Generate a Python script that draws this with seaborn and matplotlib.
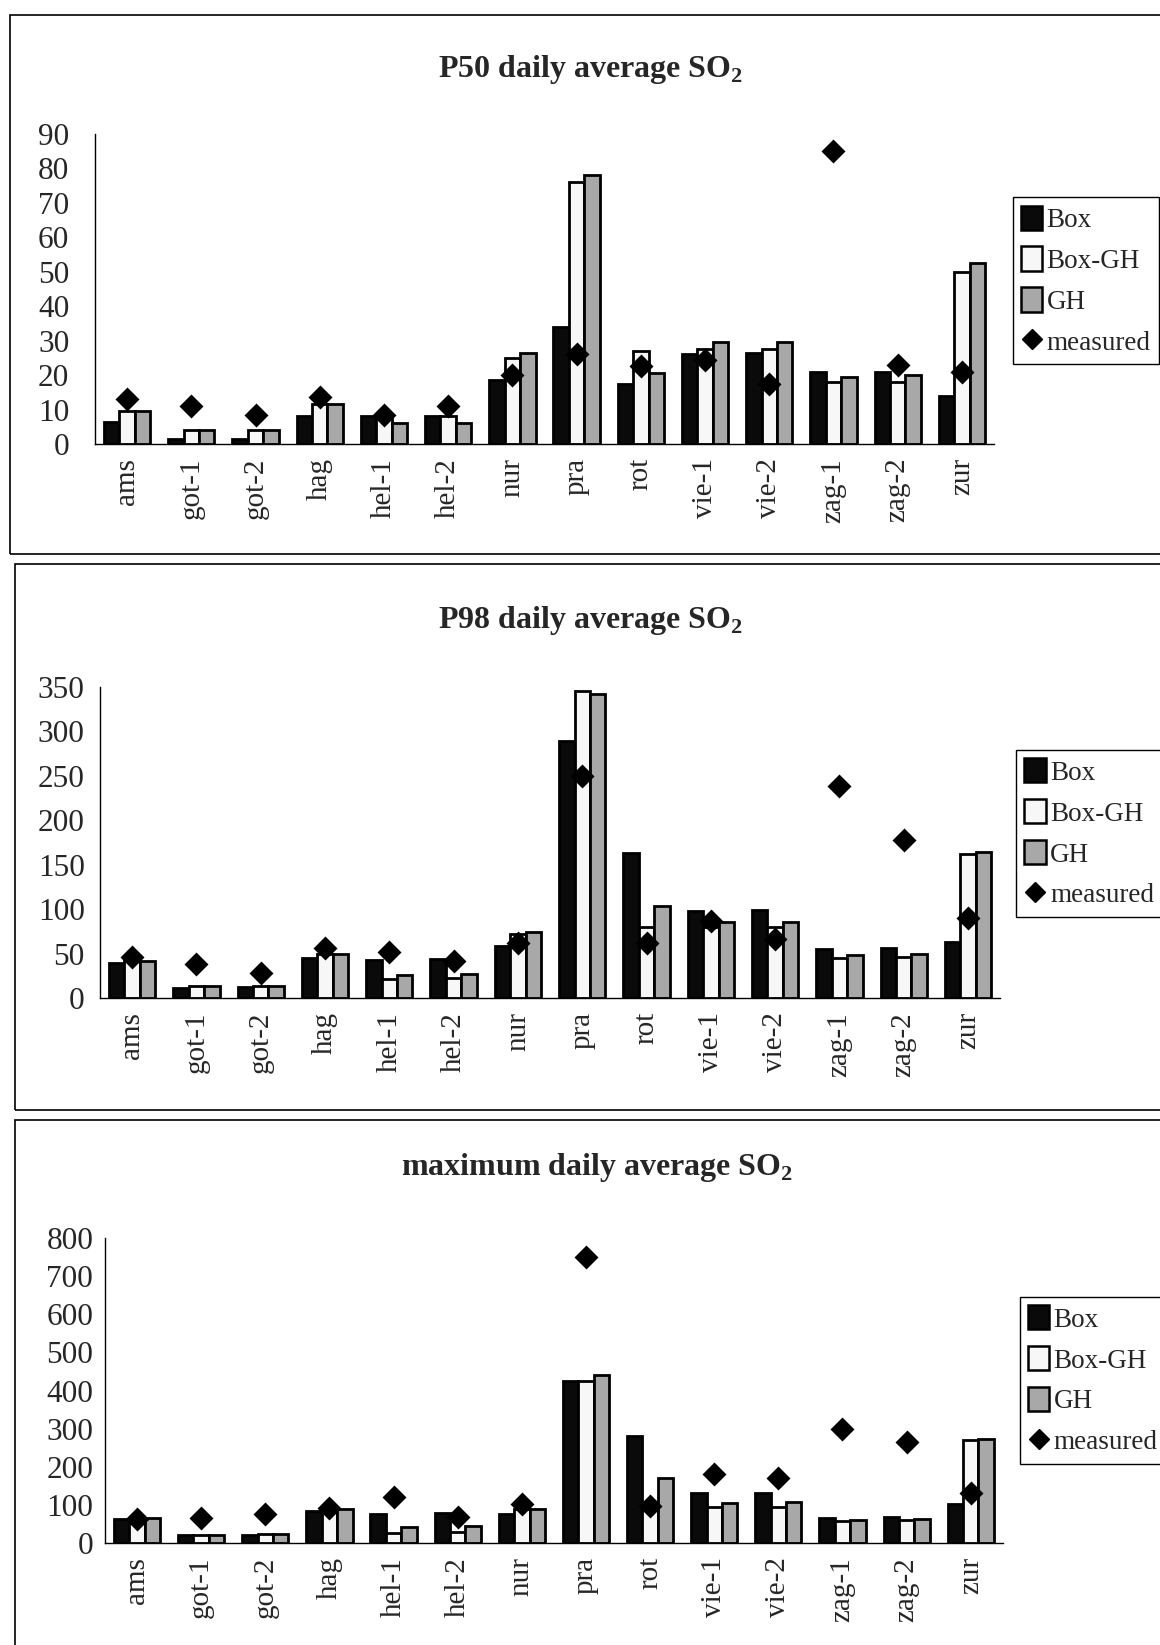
import numpy as np
import pandas as pd
import matplotlib
matplotlib.use("Agg")
import matplotlib.pyplot as plt
from matplotlib.patches import Rectangle, Patch
from matplotlib.lines import Line2D
import seaborn as sns

sites = ["ams", "got-1", "got-2", "hag", "hel-1", "hel-2", "nur", "pra",
         "rot", "vie-1", "vie-2", "zag-1", "zag-2", "zur"]
models = ["Box", "Box-GH", "GH"]

# P50 daily average SO2
p50_box    = [6.5, 1.5, 1.5, 8, 8, 8, 18.5, 34, 17.5, 26, 26.5, 21, 21, 14]
p50_boxgh  = [9.5, 4, 4, 11.5, 8, 8, 25, 76, 27, 27.5, 27.5, 18, 18, 50]
p50_gh     = [9.5, 4, 4, 11.5, 6, 6, 26.5, 78, 20.5, 29.5, 29.5, 19.5, 20, 52.5]
p50_meas   = [13, 11, 8.5, 13.5, 8.5, 11, 20, 26, 22.5, 24.5, 17.5, 85, 23, 21]

# P98 daily average SO2
p98_box    = [39, 11, 12, 45, 43, 44, 59, 289, 163, 98, 99, 55, 56, 63]
p98_boxgh  = [43, 14, 14, 50, 21, 22, 72, 345, 80, 80, 80, 45, 46, 162]
p98_gh     = [42, 14, 14, 50, 26, 27, 74, 342, 103, 85, 86, 48, 49, 164]
p98_meas   = [46, 38, 28, 56, 52, 42, 62, 250, 62, 87, 66, 238, 178, 90]

# maximum daily average SO2
max_box    = [62, 20, 22, 85, 75, 78, 77, 425, 282, 130, 132, 65, 67, 103]
max_boxgh  = [65, 22, 24, 90, 25, 30, 90, 425, 100, 95, 95, 58, 60, 270]
max_gh     = [65, 22, 24, 90, 43, 45, 90, 440, 170, 105, 107, 60, 62, 273]
max_meas   = [63, 65, 75, 93, 122, 68, 102, 750, 98, 180, 170, 300, 265, 130]

titles = [r"P50 daily average SO$_{\mathbf{2}}$",
          r"P98 daily average SO$_{\mathbf{2}}$",
          r"maximum daily average SO$_{\mathbf{2}}$"]
yticks = [np.arange(0, 91, 10), np.arange(0, 351, 50), np.arange(0, 801, 100)]

sns.set_theme(style="white")
plt.rcParams["font.family"] = ["Liberation Serif", "DejaVu Serif"]
plt.rcParams["mathtext.fontset"] = "custom"
plt.rcParams["mathtext.rm"] = "Liberation Serif"
plt.rcParams["mathtext.bf"] = "Liberation Serif:bold"

colors = {"Box": "#0a0a0a", "Box-GH": "#f7f7f7", "GH": "#a8a8a8"}

fig = plt.figure(figsize=(11.6, 16.45), dpi=100)

panels = [
    (p50_box, p50_boxgh, p50_gh, p50_meas),
    (p98_box, p98_boxgh, p98_gh, p98_meas),
    (max_box, max_boxgh, max_gh, max_meas),
]
axpos = [
    [0.0819, 0.7301, 0.775, 0.1885],
    [0.0862, 0.3933, 0.776, 0.1891],
    [0.0905, 0.0620, 0.774, 0.1854],
]
ypads = [12.5, 5, 2.5]
title_pos = [(0.509, 0.958), (0.509, 0.6225), (0.515, 0.2900)]
leg_pos = [(0.873, 0.880), (0.876, 0.544), (0.879, 0.2115)]
frames = [(0.0086, 0.6632, 0.9909), (0.013, 0.3252, 0.6571), (0.013, -0.02, 0.3191)]

for i, (b, bg, g, m) in enumerate(panels):
    # frame
    x0, y0, y1 = frames[i]
    fig.patches.append(Rectangle((x0, y0), 1.2, y1 - y0, transform=fig.transFigure,
                                 fill=False, edgecolor="black", linewidth=1.2))
    ax = fig.add_axes(axpos[i])
    df = pd.DataFrame({
        "site": sites * 3,
        "model": ["Box"] * len(sites) + ["Box-GH"] * len(sites) + ["GH"] * len(sites),
        "value": b + bg + g,
    })
    sns.barplot(data=df, x="site", y="value", hue="model", order=sites,
                hue_order=models, palette=colors, edgecolor="black",
                linewidth=2.0, width=0.72, saturation=1, ax=ax)
    sns.pointplot(x=sites, y=m, order=sites, color="black", marker="D",
                  linestyle="none", markersize=10, errorbar=None, ax=ax)
    if ax.get_legend() is not None:
        ax.get_legend().remove()
    ax.set_xlim(-0.5, len(sites) - 0.5)
    ax.set_ylim(0, yticks[i][-1])
    ax.set_yticks(yticks[i])
    ax.set_yticklabels([str(v) for v in yticks[i]], fontsize=22.5)
    ax.set_xticks(np.arange(len(sites)))
    ax.set_xticklabels(sites, rotation=90, fontsize=21)
    ax.set_xticks(np.arange(len(sites) + 1) - 0.5, minor=True)
    ax.tick_params(axis="x", which="major", length=0, pad=10)
    ax.tick_params(axis="x", which="minor", direction="inout", length=14, width=1, color="black")
    ax.tick_params(axis="y", direction="inout", length=12, width=1, color="black", pad=ypads[i])
    ax.set_xlabel("")
    ax.set_ylabel("")
    for s in ["top", "right"]:
        ax.spines[s].set_visible(False)
    for s in ["left", "bottom"]:
        ax.spines[s].set_color("black")
        ax.spines[s].set_linewidth(1.0)
    ax.grid(False)
    fig.text(title_pos[i][0], title_pos[i][1], titles[i], ha="center", va="center",
             fontsize=23, fontweight="bold")

    handles = [Patch(facecolor=colors[k], edgecolor="black", linewidth=1.8) for k in models]
    handles.append(Line2D([], [], marker="D", color="black", linestyle="none", markersize=10))
    fig.legend(handles, models + ["measured"], loc="upper left",
               bbox_to_anchor=leg_pos[i], bbox_transform=fig.transFigure,
               fontsize=19.5, frameon=True, fancybox=False, edgecolor="black",
               framealpha=1, handlelength=0.8, handleheight=1.0, handletextpad=0.15,
               labelspacing=0.5, borderpad=0.3, borderaxespad=0)

fig.savefig("out.png", dpi=100, facecolor="white")
